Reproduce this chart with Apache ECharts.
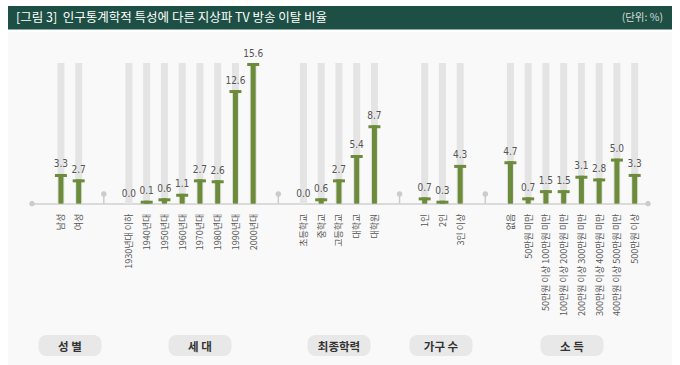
<!DOCTYPE html>
<html><head><meta charset="utf-8">
<script src="https://cdn.jsdelivr.net/npm/echarts@6/dist/echarts.min.js"></script>
<style>html,body{margin:0;padding:0;background:#fff}#c{width:680px;height:365px}</style>
</head><body><div id="c"></div>
<script>
// ---- data ----
const genderCats = ['남성', '여성'];
const genderVals = [3.3, 2.7];
const genCats = ['1930년대 이하', '1940년대', '1950년대', '1960년대', '1970년대', '1980년대', '1990년대', '2000년대'];
const genVals = [0.0, 0.1, 0.6, 1.1, 2.7, 2.6, 12.6, 15.6];
const eduCats = ['초등학교', '중학교', '고등학교', '대학교', '대학원'];
const eduVals = [0.0, 0.6, 2.7, 5.4, 8.7];
const hhCats = ['1인', '2인', '3인 이상'];
const hhVals = [0.7, 0.3, 4.3];
const incCats = ['없음', '50만원 미만', '50만원 이상 100만원 미만', '100만원 이상 200만원 미만', '200만원 이상 300만원 미만', '300만원 이상 400만원 미만', '400만원 이상 500만원 미만', '500만원 이상'];
const incVals = [4.7, 0.7, 1.5, 1.5, 3.1, 2.8, 5.0, 3.3];
const groupNames = ['성 별', '세 대', '최종학력', '가구 수', '소 득'];
const TITLE = '[그림 3]  인구통계학적 특성에 다른 지상파 TV 방송 이탈 비율';
const UNIT = '(단위: %)';
const Y_MAX = 15.6;

// ---- layout/style ----
const GREEN = '#6c8c3c', GRAY = '#e4e4e4', DOT = '#cccccc';
const KR = '"Noto Sans CJK KR", "Noto Sans", sans-serif';
const NARROW = '"Liberation Sans Narrow", "DejaVu Sans Condensed", "Noto Sans", sans-serif';
const GAP = 2.83;

const groups = [[genderCats, genderVals], [genCats, genVals], [eduCats, eduVals], [hhCats, hhVals], [incCats, incVals]];
const points = [], seps = [];
let pos = 0;
groups.forEach((g, gi) => {
  if (gi > 0) { seps.push(pos - 1 + GAP / 2); pos += GAP - 1; }
  g[0].forEach((c, i) => { points.push([pos, g[1][i], c]); pos += 1; });
});
const X_MIN = -1.63, X_MAX = pos - 1 + 0.75;

const chart = echarts.init(document.getElementById('c'), null, { renderer: 'svg' });

function renderBar(params, api) {
  const p = points[params.dataIndex];
  const base = api.coord([p[0], 0]);
  const top = api.coord([p[0], p[1]]);
  const full = api.coord([p[0], Y_MAX]);
  const cx = base[0], by = base[1];
  const ch = [];
  ch.push({ type: 'rect', shape: { x: cx - 3.5, y: full[1], width: 7, height: by - full[1] }, style: { fill: GRAY } });
  let capTop = by;
  if (p[1] > 0) {
    capTop = Math.min(top[1], by - 3);
    ch.push({ type: 'rect', shape: { x: cx - 2.5, y: capTop, width: 5, height: by - capTop }, style: { fill: GREEN } });
    ch.push({ type: 'rect', shape: { x: cx - 6, y: capTop, width: 12, height: 3 }, style: { fill: GREEN } });
  }
  ch.push({ type: 'text', x: cx, y: capTop - 5, style: { text: p[1].toFixed(1), align: 'center', verticalAlign: 'bottom', fill: '#555', fontSize: 10, fontFamily: NARROW } });
  ch.push({ type: 'text', x: cx, y: by + 10, rotation: Math.PI / 2, style: { text: p[2], align: 'right', verticalAlign: 'middle', fill: '#555', fontSize: 9, fontFamily: KR } });
  return { type: 'group', children: ch };
}
function renderSep(params, api) {
  const b = api.coord([api.value(0), 0]);
  return { type: 'group', children: [
    { type: 'line', shape: { x1: b[0], y1: b[1], x2: b[0], y2: b[1] - 9.7 }, style: { stroke: DOT, lineWidth: 1.5 } },
    { type: 'circle', shape: { cx: b[0], cy: b[1] - 9.7, r: 2.8 }, style: { fill: DOT } }
  ] };
}
function renderEnd(params, api) {
  const b = api.coord([api.value(0), 0]);
  return { type: 'circle', shape: { cx: b[0], cy: b[1], r: 2.8 }, style: { fill: DOT } };
}

const pillCenters = [70, 200, 339, 441, 572];
const graphics = [
  { type: 'rect', left: 8, top: 32, shape: { width: 664, height: 333 }, style: { fill: '#f9f9f9' }, z: -10 },
  { type: 'rect', left: 8, top: 6, shape: { width: 664, height: 23.5 }, style: { fill: '#1d4f45' }, z: 1 },
  { type: 'text', left: 16, top: 10, style: { text: TITLE, fill: '#ffffff', fontSize: 12.5, fontFamily: KR }, z: 2 },
  { type: 'text', right: 17, top: 11.5, style: { text: UNIT, fill: '#d6dcd9', fontSize: 10.5, fontFamily: KR }, z: 2 }
];
groupNames.forEach((n, i) => {
  graphics.push({ type: 'rect', left: pillCenters[i] - 31.5, top: 335, shape: { width: 63, height: 21, r: 8 }, style: { fill: '#e8e8e8' }, z: 1 });
  graphics.push({ type: 'text', x: pillCenters[i], y: 345.5, style: { text: n, fill: '#333', fontSize: 11.5, fontWeight: 'bold', fontFamily: KR, align: 'center', verticalAlign: 'middle' }, z: 2 });
});

chart.setOption({
  animation: false,
  grid: { left: 32, right: 32, top: 63, bottom: 161.3 },
  xAxis: { type: 'value', min: X_MIN, max: X_MAX, axisLine: { show: true, lineStyle: { color: '#dadada', width: 2 } }, axisTick: { show: false }, axisLabel: { show: false }, splitLine: { show: false } },
  yAxis: { type: 'value', min: 0, max: Y_MAX, show: false, splitLine: { show: false } },
  graphic: graphics,
  series: [
    { type: 'custom', renderItem: renderSep, data: seps.map(s => [s]), clip: false, z: 2 },
    { type: 'custom', renderItem: renderEnd, data: [[X_MIN], [X_MAX]], clip: false, z: 2 },
    { type: 'custom', renderItem: renderBar, data: points.map(p => [p[0], p[1]]), clip: false, z: 3 }
  ]
});
</script></body></html>
